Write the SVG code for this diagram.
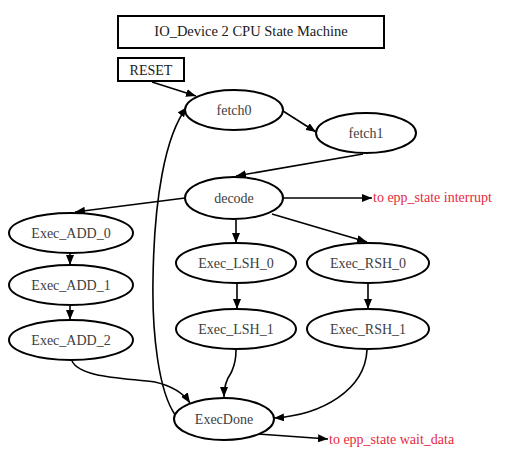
<svg xmlns="http://www.w3.org/2000/svg" width="519" height="456" viewBox="0 0 519 456">
<style>
.box{fill:#fff;stroke:#000;stroke-width:2}
.node{fill:#fff;stroke:#000;stroke-width:2}
.lbl{font-family:"Liberation Serif","Times New Roman",serif;font-size:14px;fill:#404040;text-anchor:middle}
.ttl{font-family:"Liberation Serif","Times New Roman",serif;font-size:14.5px;fill:#202020;text-anchor:middle}
.red{font-family:"Liberation Serif","Times New Roman",serif;font-size:14px;fill:#e8283c}
.edge{fill:none;stroke:#000;stroke-width:1.6;marker-end:url(#ah)}
</style>
<defs>
<marker id="ah" viewBox="0 0 10 8" refX="10" refY="4" markerWidth="10" markerHeight="8" markerUnits="userSpaceOnUse" orient="auto">
<path d="M0,0 L10,4 L0,8 Z" fill="#000"/>
</marker>
</defs>
<rect width="519" height="456" fill="#fff"/>
<g id="title"><rect class="box" x="118" y="16" width="266" height="32"/><text class="ttl" x="251" y="36">IO_Device 2 CPU State Machine</text></g>
<g id="reset"><rect class="box" x="118" y="58" width="66" height="23"/><text class="lbl" x="151" y="75" style="fill:#202020">RESET</text></g>
<g id="connectors">
<path class="edge" d="M152,82 L196,96"/>
<path class="edge" d="M283,111 L316,132"/>
<path class="edge" d="M363,154 L236,176"/>
<path class="edge" d="M283,198 L372,198"/>
<path class="edge" d="M236,220 L236,243"/>
<path class="edge" d="M272,214 L367,242"/>
<path class="edge" d="M185,198 L75,212"/>
<path class="edge" d="M70,253 L70,265"/>
<path class="edge" d="M70,306 L70,320"/>
<path class="edge" d="M237,283 L237,309"/>
<path class="edge" d="M368,283 L368,309"/>
<path class="edge" d="M72,361 C80,378 125,378 155,382 C172,386 184,394 190,403"/>
<path class="edge" d="M236,350 C236,364 233,368 231,373 C226,380 224,388 224,397"/>
<path class="edge" d="M367,350 C365,390 322,415 274,418"/>
<path class="edge" d="M258,434 L328,439"/>
<path class="edge" d="M176,416 C158,392 152,330 153,280 C154,200 165,135 187,107"/>
</g>
<g id="fetch0"><ellipse class="node" cx="234" cy="110" rx="49" ry="20"/><text class="lbl" x="234" y="115">fetch0</text></g>
<g id="fetch1"><ellipse class="node" cx="366" cy="133" rx="50" ry="20"/><text class="lbl" x="366" y="138">fetch1</text></g>
<g id="decode"><ellipse class="node" cx="234" cy="198" rx="49" ry="21"/><text class="lbl" x="234" y="203">decode</text></g>
<g id="exec_add_0"><ellipse class="node" cx="71" cy="233" rx="62" ry="20"/><text class="lbl" x="71" y="238">Exec_ADD_0</text></g>
<g id="exec_add_1"><ellipse class="node" cx="71" cy="285" rx="62" ry="20"/><text class="lbl" x="71" y="290">Exec_ADD_1</text></g>
<g id="exec_add_2"><ellipse class="node" cx="71" cy="340" rx="62" ry="20"/><text class="lbl" x="71" y="345">Exec_ADD_2</text></g>
<g id="exec_lsh_0"><ellipse class="node" cx="236" cy="263" rx="60" ry="20"/><text class="lbl" x="236" y="268">Exec_LSH_0</text></g>
<g id="exec_rsh_0"><ellipse class="node" cx="368" cy="263" rx="61" ry="20"/><text class="lbl" x="368" y="268">Exec_RSH_0</text></g>
<g id="exec_lsh_1"><ellipse class="node" cx="236" cy="329" rx="60" ry="20"/><text class="lbl" x="236" y="334">Exec_LSH_1</text></g>
<g id="exec_rsh_1"><ellipse class="node" cx="368" cy="329" rx="61" ry="20"/><text class="lbl" x="368" y="334">Exec_RSH_1</text></g>
<g id="execdone"><ellipse class="node" cx="224" cy="419" rx="50" ry="21"/><text class="lbl" x="224" y="424">ExecDone</text></g>
<g id="to_interrupt"><text class="red" x="373" y="202">to epp_state interrupt</text></g>
<g id="to_wait_data"><text class="red" x="329" y="444">to epp_state wait_data</text></g>
</svg>
